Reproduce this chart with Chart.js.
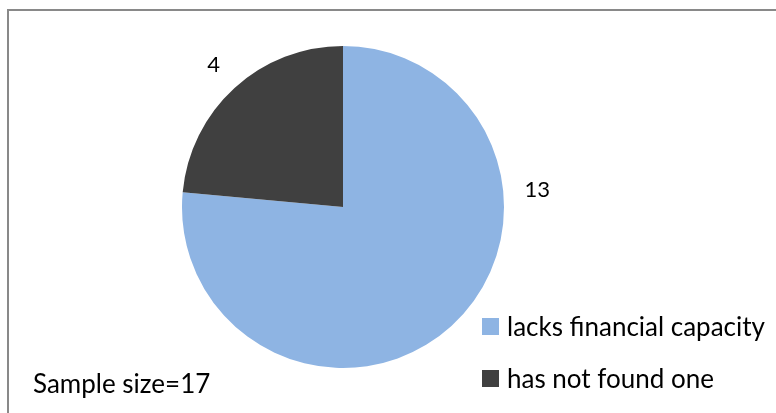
<!DOCTYPE html>
<html>
<head>
<meta charset="utf-8">
<script src="https://cdn.jsdelivr.net/npm/chart.js@4/dist/chart.umd.min.js"></script>
<style>
  html, body { margin: 0; padding: 0; background: #ffffff; }
  #wrap { position: relative; width: 776px; height: 413px; overflow: hidden; }
  #frame { position: absolute; left: 7px; top: 9px; width: 800px; height: 440px; border: 2px solid #898989; box-sizing: border-box; }
  canvas { position: absolute; left: 0; top: 0; }
</style>
</head>
<body>
<div id="wrap">
  <div id="frame"></div>
  <canvas id="c" width="776" height="413"></canvas>
</div>
<script>
const categories = ["lacks financial capacity", "has not found one"];
const values = [13, 4];
const colors = ["#8EB4E3", "#404040"];
const noteText = "Sample size=17";

const FONT = 'Lato, "Open Sans", sans-serif';
const FONT_SIZE = 26;
const LABEL_SIZE = 22;
// label placement per slice: angle measured clockwise from 12 o'clock (deg), extra distance beyond radius
const labelPlacement = [{ angle: 85, extra: 34 }, { angle: null, extra: 31 }];

const overlay = {
  id: 'overlay',
  afterDraw(chart) {
    const ctx = chart.ctx;
    const meta = chart.getDatasetMeta(0);
    ctx.save();
    ctx.fillStyle = '#000000';
    ctx.font = LABEL_SIZE + 'px ' + FONT;
    ctx.textAlign = 'center';
    ctx.textBaseline = 'middle';
    meta.data.forEach((arc, i) => {
      const p = arc.getProps(['x', 'y', 'startAngle', 'endAngle', 'outerRadius'], true);
      const pl = labelPlacement[i];
      let a;
      if (pl.angle === null) {
        a = (p.startAngle + p.endAngle) / 2;
      } else {
        a = (pl.angle - 90) * Math.PI / 180;
      }
      const d = p.outerRadius + pl.extra;
      ctx.fillText(String(values[i]), p.x + Math.cos(a) * d, p.y + Math.sin(a) * d);
    });
    // legend
    ctx.font = FONT_SIZE + 'px ' + FONT;
    ctx.textAlign = 'left';
    ctx.textBaseline = 'middle';
    const lx = 482, ly = 326.5, step = 52, box = 17;
    categories.forEach((c, i) => {
      const y = ly + i * step;
      ctx.fillStyle = colors[i];
      ctx.fillRect(lx, y - box / 2, box, box);
      ctx.fillStyle = '#000000';
      ctx.fillText(c, lx + 25, y + 1);
    });
    ctx.textBaseline = 'alphabetic';
    ctx.fillText(noteText, 33, 393);
    ctx.restore();
  }
};

new Chart(document.getElementById('c'), {
  type: 'pie',
  data: {
    labels: categories,
    datasets: [{
      data: values,
      backgroundColor: colors,
      borderWidth: 0
    }]
  },
  options: {
    responsive: false,
    animation: false,
    rotation: 0,
    layout: { padding: { left: 182, right: 272, top: 46, bottom: 45 } },
    plugins: {
      legend: { display: false },
      tooltip: { enabled: false },
      title: { display: false }
    }
  },
  plugins: [overlay]
});
</script>
</body>
</html>
